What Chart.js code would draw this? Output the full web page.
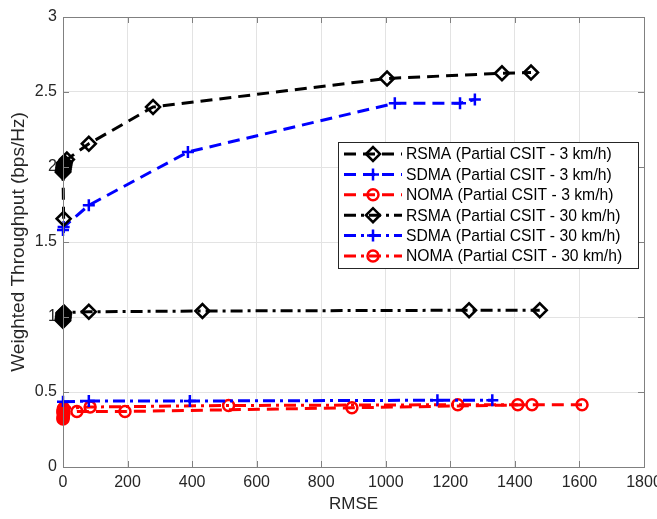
<!DOCTYPE html>
<html><head><meta charset="utf-8">
<script src="https://cdn.jsdelivr.net/npm/chart.js@4/dist/chart.umd.min.js"></script>
<style>html,body{margin:0;padding:0;background:#fff}</style>
</head><body>
<canvas id="c" width="657" height="519"></canvas>
<script>
// ---- data ----
const xTicks = [0, 200, 400, 600, 800, 1000, 1200, 1400, 1600, 1800];
const yTicks = [0, 0.5, 1, 1.5, 2, 2.5, 3];

const rsma3X = [2, 0, 0.5, 1, 1.5, 2, 2.5, 3, 3.5, 4, 5, 12, 80, 279, 1004, 1360, 1450];
const rsma3Y = [1.655, 1.965, 1.972, 1.98, 1.987, 1.995, 2.002, 2.01, 2.017, 2.025, 2.03, 2.05, 2.155, 2.40, 2.59, 2.625, 2.63];

const sdma3X = [0, 2, 80, 387, 1028, 1230, 1276];
const sdma3Y = [1.58, 1.60, 1.745, 2.10, 2.425, 2.425, 2.45];

const noma3X = [0, 0, 1, 1, 2, 2, 43, 192, 895, 1453, 1608];
const noma3Y = [0.32, 0.327, 0.335, 0.342, 0.35, 0.357, 0.37, 0.37, 0.395, 0.415, 0.415];

const rsma30X = [0, 0, 0.5, 1, 1, 1.5, 2, 2, 3, 80, 432, 1258, 1477];
const rsma30Y = [0.975, 0.982, 0.99, 0.997, 1.004, 1.011, 1.018, 1.025, 1.03, 1.035, 1.04, 1.045, 1.045];

const sdma30X = [0, 80, 393, 1160, 1330];
const sdma30Y = [0.435, 0.44, 0.44, 0.445, 0.445];

const noma30X = [0, 0, 1, 1, 2, 84, 513, 1223, 1409];
const noma30Y = [0.362, 0.37, 0.377, 0.385, 0.392, 0.40, 0.41, 0.415, 0.415];

const labels = [
  'RSMA (Partial CSIT - 3 km/h)',
  'SDMA (Partial CSIT - 3 km/h)',
  'NOMA (Partial CSIT - 3 km/h)',
  'RSMA (Partial CSIT - 30 km/h)',
  'SDMA (Partial CSIT - 30 km/h)',
  'NOMA (Partial CSIT - 30 km/h)'
];

const pts = (xs, ys) => xs.map((x, i) => ({x: x, y: ys[i]}));
const DASH = [12, 7];
const DASHDOT = [12, 5, 3, 5];

function ds(label, xs, ys, color, dash, style, radius) {
  return {
    label: label, data: pts(xs, ys),
    borderColor: color, borderWidth: 3, borderDash: dash,
    pointStyle: style, pointRadius: radius, pointHoverRadius: radius,
    pointBorderColor: color, pointBackgroundColor: 'rgba(255,255,255,0)', pointBorderWidth: 2.5,
    fill: false, tension: 0, clip: false
  };
}

const datasets = [
  ds(labels[0], rsma3X, rsma3Y, '#000000', DASH, 'rectRot', 7),
  ds(labels[1], sdma3X, sdma3Y, '#0000ff', DASH, 'cross', 6),
  ds(labels[2], noma3X, noma3Y, '#ff0000', DASH, 'circle', 5.5),
  ds(labels[3], rsma30X, rsma30Y, '#000000', DASHDOT, 'rectRot', 7),
  ds(labels[4], sdma30X, sdma30Y, '#0000ff', DASHDOT, 'cross', 6),
  ds(labels[5], noma30X, noma30Y, '#ff0000', DASHDOT, 'circle', 5.5)
];

const FONT = '"Liberation Sans", Arial, sans-serif';
const AXIS = '#808080';

const boxPlugin = {
  id: 'box',
  afterDraw(chart) {
    const {ctx, chartArea: a, scales} = chart;
    ctx.save();
    ctx.setLineDash([]);
    ctx.strokeStyle = AXIS;
    ctx.lineWidth = 1;
    // inward ticks
    ctx.beginPath();
    xTicks.forEach(v => {
      const px = Math.round(scales.x.getPixelForValue(v)) + 0.5;
      ctx.moveTo(px, a.bottom); ctx.lineTo(px, a.bottom - 6);
      ctx.moveTo(px, a.top); ctx.lineTo(px, a.top + 6);
    });
    yTicks.forEach(v => {
      const py = Math.round(scales.y.getPixelForValue(v)) + 0.5;
      ctx.moveTo(a.left, py); ctx.lineTo(a.left + 6, py);
      ctx.moveTo(a.right, py); ctx.lineTo(a.right - 6, py);
    });
    ctx.stroke();
    ctx.strokeRect(Math.round(a.left) + 0.5, Math.round(a.top) + 0.5,
                   Math.round(a.right - a.left), Math.round(a.bottom - a.top));
    // legend
    const L = 338, T = 142, R = 638, B = 268;
    ctx.fillStyle = '#fff';
    ctx.fillRect(L, T, R - L, B - T);
    ctx.strokeStyle = '#262626';
    ctx.strokeRect(L + 0.5, T + 0.5, R - L, B - T);
    chart.data.datasets.forEach((d, i) => {
      const y = 154 + i * 20.4;
      ctx.strokeStyle = d.borderColor;
      ctx.lineWidth = 3;
      ctx.setLineDash(d.borderDash);
      ctx.beginPath();
      ctx.moveTo(344, y); ctx.lineTo(402, y);
      ctx.stroke();
      ctx.setLineDash([]);
      ctx.fillStyle = 'rgba(255,255,255,0)';
      ctx.strokeStyle = d.borderColor;
      ctx.lineWidth = 2.5;
      Chart.helpers.drawPoint(ctx, {pointStyle: d.pointStyle, radius: d.pointRadius, borderWidth: 2.5, rotation: 0}, 373, y);
      ctx.fillStyle = '#000';
      ctx.font = '15.7px ' + FONT;
      ctx.textBaseline = 'middle';
      ctx.textAlign = 'left';
      ctx.fillText(d.label, 406, y + 1);
    });
    ctx.restore();
  }
};

new Chart(document.getElementById('c'), {
  type: 'line',
  data: {datasets: datasets},
  options: {
    responsive: false, animation: false, devicePixelRatio: 1,
    layout: {padding: {top: 17, right: 13, left: 0, bottom: 0}},
    plugins: {legend: {display: false}, tooltip: {enabled: false}},
    scales: {
      x: {
        type: 'linear', min: 0, max: 1800,
        afterBuildTicks: s => { s.ticks = xTicks.map(v => ({value: v})); },
        afterFit: s => { s.height = 52; s.paddingLeft = 0; s.paddingRight = 0; },
        border: {display: false},
        grid: {color: '#e3e3e3', drawTicks: false, lineWidth: 1},
        ticks: {padding: 6, color: '#262626', font: {family: FONT, size: 16}, maxRotation: 0,
                autoSkip: false, callback: v => String(v)},
        title: {display: true, text: 'RMSE', color: '#262626', font: {family: FONT, size: 17},
                padding: {top: 0, bottom: 4}}
      },
      y: {
        type: 'linear', min: 0, max: 3,
        afterBuildTicks: s => { s.ticks = yTicks.map(v => ({value: v})); },
        afterFit: s => { s.width = 63; s.paddingTop = 0; s.paddingBottom = 0; },
        border: {display: false},
        grid: {color: '#e3e3e3', drawTicks: false, lineWidth: 1},
        ticks: {padding: 6, color: '#262626', font: {family: FONT, size: 16},
                autoSkip: false, callback: v => String(v)},
        title: {display: true, text: 'Weighted Throughput (bps/Hz)', color: '#262626',
                font: {family: FONT, size: 19}, padding: {top: 7, bottom: 0}}
      }
    }
  },
  plugins: [boxPlugin]
});
</script>
</body></html>
